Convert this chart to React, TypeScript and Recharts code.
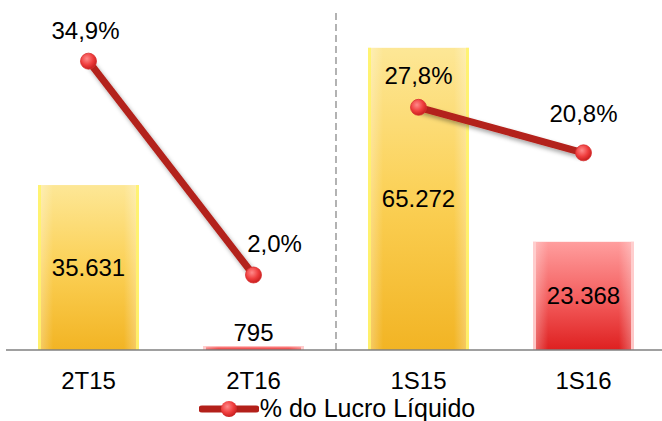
import React from 'react';
import { ComposedChart, Bar, Line, XAxis, YAxis, ReferenceLine, LabelList, Legend } from 'recharts';

const PERIODS = ['2T15', '2T16', '1S15', '1S16'];
const LUCRO = [35631, 795, 65272, 23368];
const PCT = [34.9, 2.0, 27.8, 20.8];
const GROUP = ['T', 'T', 'S', 'S'];
const BAR_TONE = ['gold', 'red', 'gold', 'red'];

const DATA = PERIODS.map((p, i) => ({
  name: p,
  lucro: LUCRO[i],
  tone: BAR_TONE[i],
  pctT: GROUP[i] === 'T' ? PCT[i] : null,
  pctS: GROUP[i] === 'S' ? PCT[i] : null,
}));

const FONT = '"Liberation Sans", Arial, sans-serif';
const fmtInt = (v: number) => v.toLocaleString('de-DE');
const fmtPct = (v: number) => v.toFixed(1).replace('.', ',') + '%';

const GradBar = (props: any) => {
  const { x, y, width, height, payload } = props;
  if (!height || height <= 0) return null;
  const red = payload.tone === 'red';
  const edge = red ? '#ffd0d0' : '#fff36a';
  return (
    <g>
      <rect x={x} y={y} width={width} height={height} fill={red ? 'url(#gRed)' : 'url(#gGold)'} />
      <rect x={x} y={y} width={width} height={height} fill="url(#gSide)" />
      <rect x={x} y={y} width={3} height={height} fill={edge} opacity={0.9} />
      <rect x={x + width - 3} y={y} width={3} height={height} fill={edge} opacity={0.9} />
    </g>
  );
};

const BarValue = (props: any) => {
  const { x, y, width, height, value } = props;
  const small = height < 20;
  const cy = small ? y - 14 : y + height / 2;
  return (
    <text x={x + width / 2} y={cy} textAnchor="middle" dominantBaseline="central"
      fontFamily={FONT} fontSize={24} fill="#000">
      {fmtInt(value)}
    </text>
  );
};

const PctValue = (props: any) => {
  const { x, y, value, index } = props;
  if (value == null) return null;
  const off: Record<number, [number, number]> = { 0: [-3, -31], 1: [21, -31], 2: [0, -32], 3: [0, -39] };
  const [dx, dy] = off[index] || [0, -31];
  return (
    <text x={x + dx} y={y + dy} textAnchor="middle" dominantBaseline="central"
      fontFamily={FONT} fontSize={24} fill="#000">
      {fmtPct(value)}
    </text>
  );
};

const Marker = (props: any) => {
  const { cx, cy, value } = props;
  if (value == null || cx == null || cy == null) return null;
  return <circle cx={cx} cy={cy} r={8} fill="url(#gDot)" stroke="#d83030" strokeWidth={0.8} />;
};

const LegendBox = () => (
  <div style={{ display: 'flex', justifyContent: 'center', alignItems: 'center', height: 31, marginTop: 3, paddingLeft: 2,
    fontFamily: FONT, fontSize: 25, lineHeight: '25px', color: '#000' }}>
    <svg width={60} height={20} style={{ marginRight: 1 }}>
      <line x1={3} y1={10} x2={57} y2={10} stroke="#b3201a" strokeWidth={7} strokeLinecap="round" />
      <circle cx={30} cy={10} r={8} fill="url(#gDotL)" />
      <defs>
        <radialGradient id="gDotL" cx="40%" cy="35%" r="65%">
          <stop offset="0%" stopColor="#ff8a8a" />
          <stop offset="60%" stopColor="#ef3d3d" />
          <stop offset="100%" stopColor="#c82020" />
        </radialGradient>
      </defs>
    </svg>
    <span>% do Lucro Líquido</span>
  </div>
);

export default function App() {
  return (
    <div style={{ position: 'absolute', left: 0, top: 0, width: 662, height: 421, overflow: 'hidden', background: '#fff' }}>
      <ComposedChart width={670} height={421} data={DATA} margin={{ top: 10, right: 4, left: 6, bottom: 0 }}>
        <defs>
          <linearGradient id="gGold" x1="0" y1="0" x2="0" y2="1">
            <stop offset="0%" stopColor="#fde796" />
            <stop offset="50%" stopColor="#fbd055" />
            <stop offset="100%" stopColor="#f2b424" />
          </linearGradient>
          <linearGradient id="gRed" x1="0" y1="0" x2="0" y2="1">
            <stop offset="0%" stopColor="#ff9e9e" />
            <stop offset="55%" stopColor="#f35b5b" />
            <stop offset="100%" stopColor="#de2020" />
          </linearGradient>
          <linearGradient id="gSide" x1="0" y1="0" x2="1" y2="0">
            <stop offset="0%" stopColor="#ffffff" stopOpacity={0.35} />
            <stop offset="15%" stopColor="#ffffff" stopOpacity={0} />
            <stop offset="85%" stopColor="#ffffff" stopOpacity={0} />
            <stop offset="100%" stopColor="#ffffff" stopOpacity={0.35} />
          </linearGradient>
          <radialGradient id="gDot" cx="40%" cy="35%" r="65%">
            <stop offset="0%" stopColor="#ff8a8a" />
            <stop offset="60%" stopColor="#ef3d3d" />
            <stop offset="100%" stopColor="#c82020" />
          </radialGradient>
          <filter id="shadow" x="-10%" y="-10%" width="130%" height="130%">
            <feDropShadow dx={2} dy={3} stdDeviation={2} floodColor="#000" floodOpacity={0.35} />
          </filter>
        </defs>
        <XAxis dataKey="name" axisLine={{ stroke: '#808080', strokeWidth: 1.5 }} tickLine={false}
          tickMargin={16} height={40} interval={0}
          tick={{ fill: '#000', fontSize: 24, fontFamily: FONT }} />
        <YAxis yAxisId="v" hide domain={[0, 73440]} />
        <YAxis yAxisId="p" hide orientation="right" domain={[-9.54, 42.77]} />
        <ReferenceLine yAxisId="v" x="1S15" position="start" stroke="#808080" strokeWidth={1.2} strokeDasharray="7 4" />
        <Bar yAxisId="v" dataKey="lucro" barSize={101} shape={<GradBar />} isAnimationActive={false}>
          <LabelList dataKey="lucro" content={<BarValue />} />
        </Bar>
        <Line yAxisId="p" dataKey="pctT" stroke="#b3201a" strokeWidth={7} dot={<Marker />} activeDot={false}
          filter="url(#shadow)" connectNulls={false} isAnimationActive={false} legendType="none">
          <LabelList dataKey="pctT" content={<PctValue />} />
        </Line>
        <Line yAxisId="p" dataKey="pctS" stroke="#b3201a" strokeWidth={7} dot={<Marker />} activeDot={false}
          filter="url(#shadow)" connectNulls={false} isAnimationActive={false} legendType="none">
          <LabelList dataKey="pctS" content={<PctValue />} />
        </Line>
        <Legend verticalAlign="bottom" height={31} content={<LegendBox />} />
      </ComposedChart>
    </div>
  );
}
